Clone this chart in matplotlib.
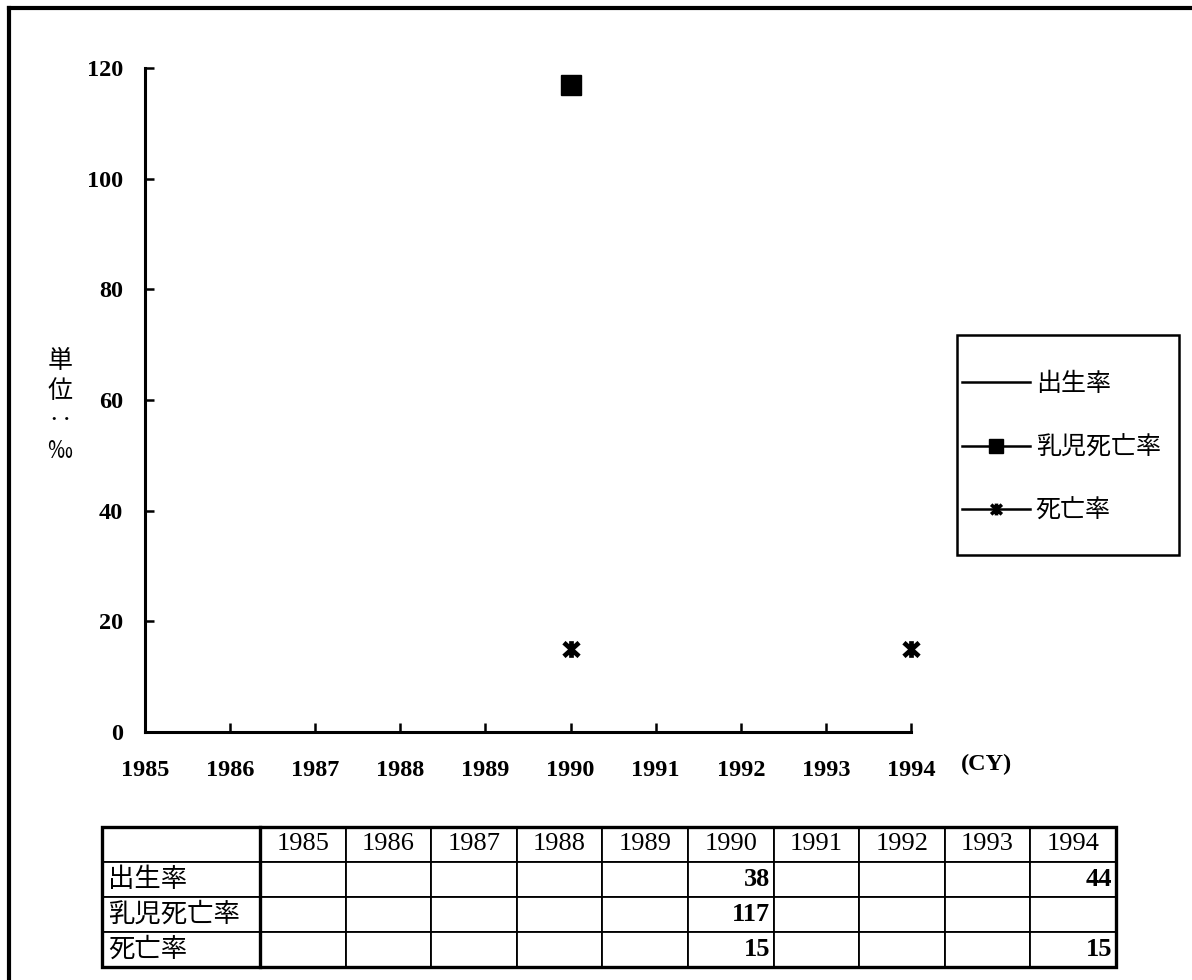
import numpy as np
import matplotlib
matplotlib.use("Agg")
import matplotlib.pyplot as plt
from matplotlib.path import Path
from matplotlib.lines import Line2D
from matplotlib.patches import Rectangle

# ---- data -------------------------------------------------------------
years = [1985, 1986, 1987, 1988, 1989, 1990, 1991, 1992, 1993, 1994]
birth_rate = [np.nan, np.nan, np.nan, np.nan, np.nan, 38, np.nan, np.nan, np.nan, 44]
infant_mortality = [np.nan, np.nan, np.nan, np.nan, np.nan, 117, np.nan, np.nan, np.nan, np.nan]
death_rate = [np.nan, np.nan, np.nan, np.nan, np.nan, 15, np.nan, np.nan, np.nan, 15]
series_names = ["出生率", "乳児死亡率", "死亡率"]
y_ticks = [0, 20, 40, 60, 80, 100, 120]

CJK = ["Noto Sans CJK JP", "DejaVu Sans"]
SERIF = "Liberation Serif"

W, H = 1192, 980
fig = plt.figure(figsize=(W / 100, H / 100), dpi=100)
fig.patch.set_facecolor("white")


def fx(px):
    return px / W


def fy(py):
    return 1 - py / H


# six-armed asterisk marker: an X with a vertical stroke
ast = Path([(-1, -0.9), (1, 0.9), (-1, 0.9), (1, -0.9), (0, -1.1), (0, 1.1)],
           [Path.MOVETO, Path.LINETO, Path.MOVETO, Path.LINETO, Path.MOVETO, Path.LINETO])

# ---- main axes --------------------------------------------------------
ax = fig.add_axes([fx(145), fy(732), (911 - 145) / W, (732 - 68) / H])
ax.set_xlim(years[0], years[-1])
ax.set_ylim(0, 120)

ax.plot(years, birth_rate, color="black", lw=1.8, label=series_names[0], clip_on=False)
ax.plot(years, infant_mortality, color="black", lw=1.8, marker="s", ms=14,
        label=series_names[1], clip_on=False)
ax.plot(years, death_rate, color="black", lw=1.8, marker=ast, ms=12, mew=3.4,
        label=series_names[2], clip_on=False)

for s in ("top", "right"):
    ax.spines[s].set_visible(False)
for s in ("left", "bottom"):
    ax.spines[s].set_linewidth(2.2)

ax.set_xticks(years)
ax.set_yticks(y_ticks)
ax.tick_params(axis="both", direction="in", length=6.5, width=1.8)
ax.tick_params(axis="x", pad=20)
ax.tick_params(axis="y", pad=16)
for lab in ax.get_xticklabels() + ax.get_yticklabels():
    lab.set_fontfamily(SERIF)
    lab.set_fontweight("bold")
    lab.set_fontsize(17.5)

fig.text(fx(961), fy(764), "(CY)", ha="left", va="center",
         family=SERIF, fontweight="bold", fontsize=17.5)

fig.text(fx(60), fy(406), "単\n位\n‥\n‰", ha="center", va="center",
         family=CJK, fontsize=18, linespacing=1.2)

# ---- legend -----------------------------------------------------------
leg = ax.legend(loc="upper left", bbox_to_anchor=(fx(962), fy(371)),
                bbox_transform=fig.transFigure, frameon=False,
                prop={"family": CJK, "size": 18}, handlelength=2.7,
                handletextpad=0.25, labelspacing=1.5, borderpad=0,
                borderaxespad=0)
leg.legend_handles[1].set_markersize(9.5)
leg.legend_handles[2].set_markersize(8.5)
leg.legend_handles[2].set_markeredgewidth(2.6)
fig.add_artist(Rectangle((fx(957), fy(555)), (1179 - 957) / W, (555 - 335) / H,
                         transform=fig.transFigure, fill=False, lw=1.8,
                         edgecolor="black"))

# ---- data table -------------------------------------------------------
def fmt(v):
    return "" if np.isnan(v) else f"{v:g}"


cell_text = [[""] + [str(y) for y in years]]
for name, vals in zip(series_names, [birth_rate, infant_mortality, death_rate]):
    cell_text.append([name] + [fmt(v) for v in vals])

first_w = 158
col_w = (1116 - 102 - first_w) / len(years)
col_widths = [first_w] + [col_w] * len(years)
total_w = sum(col_widths)
col_widths = [c / total_w for c in col_widths]

tax = fig.add_axes([fx(102), fy(967), (1116 - 102) / W, (967 - 827) / H])
tax.axis("off")
tab = tax.table(cellText=cell_text, colWidths=col_widths, bbox=[0, 0, 1, 1],
                cellLoc="center")
tab.auto_set_font_size(False)
for (r, c), cell in tab.get_celld().items():
    cell.set_linewidth(1.3)
    cell.set_edgecolor("black")
    t = cell.get_text()
    if r == 0:
        t.set_fontfamily(SERIF)
        t.set_fontsize(19)
        t.set_ha("center")
    elif c == 0:
        t.set_fontfamily(CJK)
        t.set_fontsize(19)
        t.set_ha("left")
        cell.PAD = 0.04
    else:
        t.set_fontfamily(SERIF)
        t.set_fontweight("bold")
        t.set_fontsize(19)
        t.set_ha("right")
        cell.PAD = 0.04

# heavier outline and label-column divider
tax.add_patch(Rectangle((0, 0), 1, 1, transform=tax.transAxes, fill=False,
                        lw=2.4, edgecolor="black", clip_on=False))
tax.plot([col_widths[0], col_widths[0]], [0, 1], transform=tax.transAxes,
         color="black", lw=2.4, clip_on=False)

# ---- page frame (top and left edges) ---------------------------------
fig.add_artist(Line2D([fx(9), fx(9)], [fy(8), 0], transform=fig.transFigure,
                      color="black", lw=3))
fig.add_artist(Line2D([fx(9), 1], [fy(8), fy(8)], transform=fig.transFigure,
                      color="black", lw=3))

fig.savefig("out.png", dpi=100, facecolor="white")
